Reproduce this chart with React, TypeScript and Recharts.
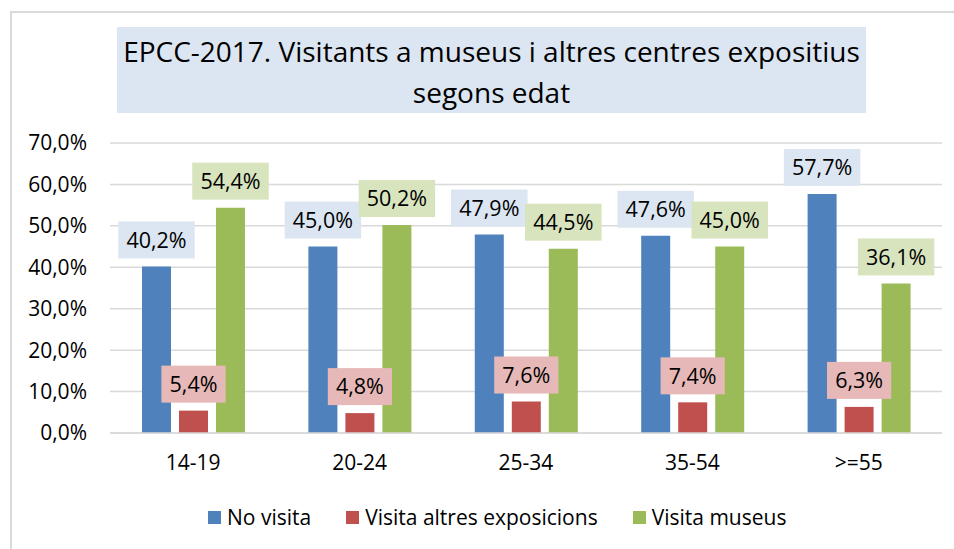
import { Bar, BarChart, CartesianGrid, LabelList, Legend, XAxis, YAxis } from "recharts";

const ageGroups = ["14-19", "20-24", "25-34", "35-54", ">=55"];
const noVisita = [40.2, 45.0, 47.9, 47.6, 57.7];
const altresExposicions = [5.4, 4.8, 7.6, 7.4, 6.3];
const visitaMuseus = [54.4, 50.2, 44.5, 45.0, 36.1];
const yTicks = [0, 10, 20, 30, 40, 50, 60, 70];

const FONT = "'Open Sans', sans-serif";
const LABEL_SIZE = 21.5;

const SERIES = [
  { key: "noVisita", name: "No visita", color: "#4f81bd", labelFill: "#dce6f2" },
  { key: "altres", name: "Visita altres exposicions", color: "#c0504d", labelFill: "#e6b9b8" },
  { key: "museus", name: "Visita museus", color: "#9bbb59", labelFill: "#d7e4bd" },
];

const data = ageGroups.map((label, i) => ({
  label,
  noVisita: noVisita[i],
  altres: altresExposicions[i],
  museus: visitaMuseus[i],
}));

const pct = (v: number) => v.toFixed(1).replace(".", ",") + "%";

// rough Open Sans advance widths, enough to size the label boxes
const CHAR_W: Record<string, number> = { ",": 0.26, "%": 0.838 };
const textWidth = (s: string, size: number) =>
  s.split("").reduce((w, c) => w + (CHAR_W[c] ?? 0.572), 0) * size;

function boxLabel(fill: string) {
  return (props: any) => {
    const { x, y, width, value } = props;
    if (x == null || y == null) return null;
    const text = pct(Number(value));
    const w = textWidth(text, LABEL_SIZE) + 16;
    const h = 37;
    const cx = Number(x) + Number(width) / 2;
    const top = Number(y) - 8 - h;
    return (
      <g>
        <rect x={cx - w / 2} y={top} width={w} height={h} fill={fill} />
        <text
          x={cx}
          y={top + h / 2 + LABEL_SIZE * 0.357}
          textAnchor="middle"
          fontFamily={FONT}
          fontSize={LABEL_SIZE}
          fill="#000"
        >
          {text}
        </text>
      </g>
    );
  };
}

function LegendContent() {
  return (
    <div style={{ display: "flex", alignItems: "center", height: 30, fontFamily: FONT, fontSize: 21, color: "#000" }}>
      {SERIES.map((s, i) => (
        <div key={s.key} style={{ display: "flex", alignItems: "center", marginLeft: i ? 35 : 0, whiteSpace: "nowrap" }}>
          <span style={{ width: 13, height: 13, background: s.color, marginRight: 6, display: "inline-block" }} />
          <span>{s.name}</span>
        </div>
      ))}
    </div>
  );
}

export default function App() {
  return (
    <div
      style={{
        position: "absolute",
        left: 0,
        top: 0,
        width: 954,
        height: 549,
        background: "#fff",
        overflow: "hidden",
      }}
    >
      <div
        style={{
          position: "absolute",
          left: 10,
          top: 11,
          width: 1000,
          height: 600,
          border: "2px solid #d9d9d9",
        }}
      />
      <div
        style={{
          position: "absolute",
          left: 117,
          top: 27,
          width: 749,
          height: 86,
          background: "#dce6f2",
          fontFamily: FONT,
          fontSize: 28,
          lineHeight: "41px",
          textAlign: "center",
          color: "#000",
          paddingTop: 4,
          boxSizing: "border-box",
          whiteSpace: "nowrap",
        }}
      >
        EPCC-2017. Visitants a museus i altres centres expositius
        <br />
        segons edat
      </div>
      <div style={{ position: "absolute", left: 0, top: 0 }}>
        <BarChart
          width={954}
          height={549}
          data={data}
          margin={{ top: 143, right: 12, left: 0, bottom: 56 }}
          barSize={29}
          barGap={8}
        >
          <CartesianGrid vertical={false} stroke="#d9d9d9" strokeWidth={1.5} />
          <XAxis
            dataKey="label"
            height={30}
            tickLine={false}
            tickSize={0}
            tickMargin={22}
            axisLine={{ stroke: "#d9d9d9", strokeWidth: 1.5 }}
            tick={{ fontFamily: FONT, fontSize: 21, fill: "#000" }}
          />
          <YAxis
            width={110}
            domain={[0, 70]}
            ticks={yTicks}
            tickFormatter={pct}
            tickLine={false}
            axisLine={false}
            tickSize={0}
            tickMargin={23}
            tick={{ fontFamily: FONT, fontSize: 21, fill: "#000" }}
          />
          <Legend
            verticalAlign="bottom"
            content={<LegendContent />}
            wrapperStyle={{ left: 208, top: 502, bottom: "auto", width: "auto" }}
          />
          {SERIES.map((s) => (
            <Bar key={s.key} dataKey={s.key} name={s.name} fill={s.color} isAnimationActive={false}>
              <LabelList dataKey={s.key} content={boxLabel(s.labelFill)} />
            </Bar>
          ))}
        </BarChart>
      </div>
    </div>
  );
}
